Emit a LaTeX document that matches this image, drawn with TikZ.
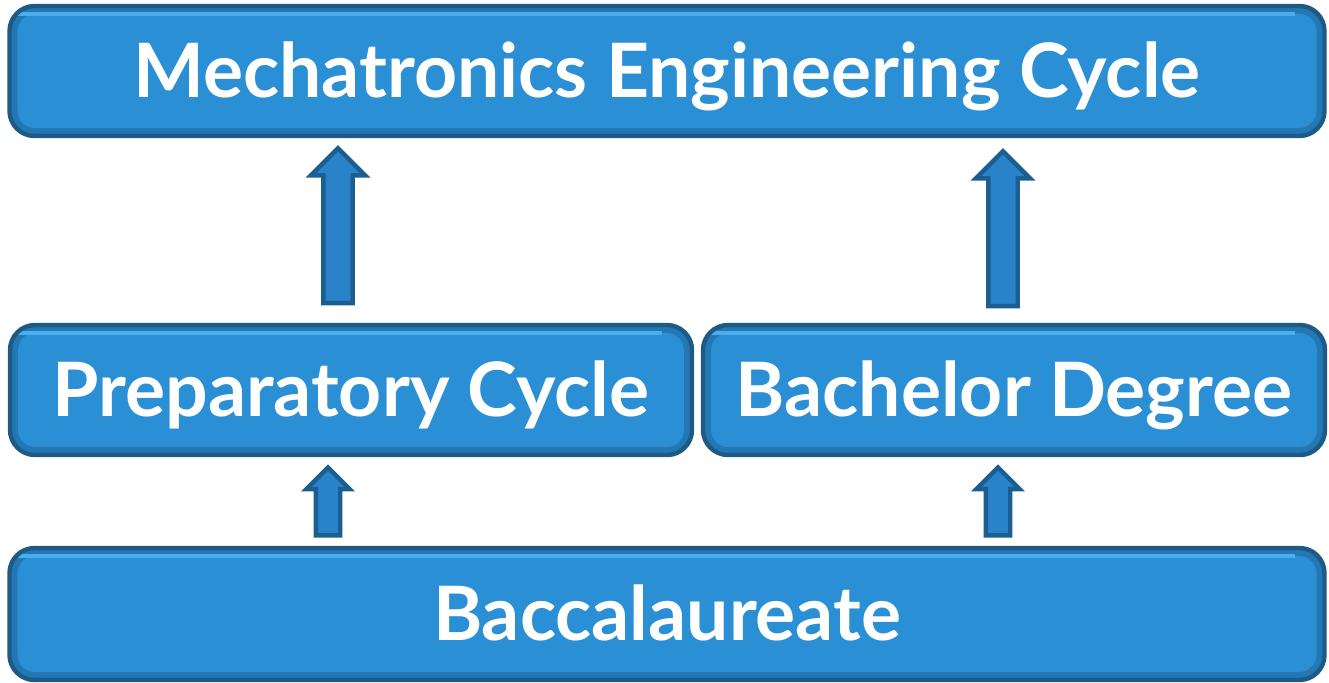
\documentclass[tikz,border=0pt]{standalone}
\usepackage{fontspec}
\setmainfont{Lato}
\usetikzlibrary{shapes.arrows}
\definecolor{boxblue}{HTML}{2A8FD4}
\definecolor{boxedge}{HTML}{1D5A85}
\definecolor{boxshade}{HTML}{2377B3}
\definecolor{boxlight}{HTML}{4AAEEE}
\definecolor{arrowblue}{HTML}{2A82C8}
\definecolor{arrowedge}{HTML}{1B5E91}
\begin{document}
\begin{tikzpicture}[thick,
    level box/.style={rectangle, rounded corners=0.5cm, draw=boxedge, line width=2.5pt, fill=boxblue,
        text=white, font=\fontsize{42.7}{50}\selectfont\bfseries, text height=30pt, text depth=0pt,
        minimum height=2.6cm, inner sep=0pt,
        path picture={
            \draw[boxshade, line width=9pt, rounded corners=0.5cm]
                (path picture bounding box.south west) rectangle (path picture bounding box.north east);
            \draw[boxlight, line width=2.5pt, rounded corners=0.4cm]
                ([shift={(0.14,-0.16)}]path picture bounding box.north west) --
                ([shift={(-0.6,-0.16)}]path picture bounding box.north east);}},
    big arrow/.style={single arrow, shape border rotate=90, draw=arrowedge, line width=2.5pt,
        fill=arrowblue, inner sep=0.25cm, single arrow head extend=0.25cm, minimum height=3.1cm},
    small arrow/.style={single arrow, shape border rotate=90, draw=arrowedge, line width=2.5pt,
        fill=arrowblue, inner sep=0.2cm, single arrow head extend=0.19cm, minimum height=1.36cm}]
    \useasboundingbox (0,0) rectangle (26.58,-13.64);

    \node [level box, minimum width=26.3cm](mech) at (13.34,-1.42) {Mechatronics Engineering Cycle};
    \node [level box, minimum width=13.64cm](prep) at (7.02,-7.80) {Preparatory Cycle};
    \node [level box, minimum width=12.44cm](bach) at (20.28,-7.80) {Bachelor Degree};
    \node [level box, minimum width=26.3cm, minimum height=2.64cm](bacc) at (13.34,-12.28) {Baccalaureate};

    % block arrows between the levels
    \node [big arrow](up1) at (6.76,-4.66) {};
    \node [big arrow](up2) at (20.06,-4.72) {};
    \node [small arrow](up3) at (6.56,-10.15) {};
    \node [small arrow](up4) at (19.96,-10.15) {};
\end{tikzpicture}
\end{document}
